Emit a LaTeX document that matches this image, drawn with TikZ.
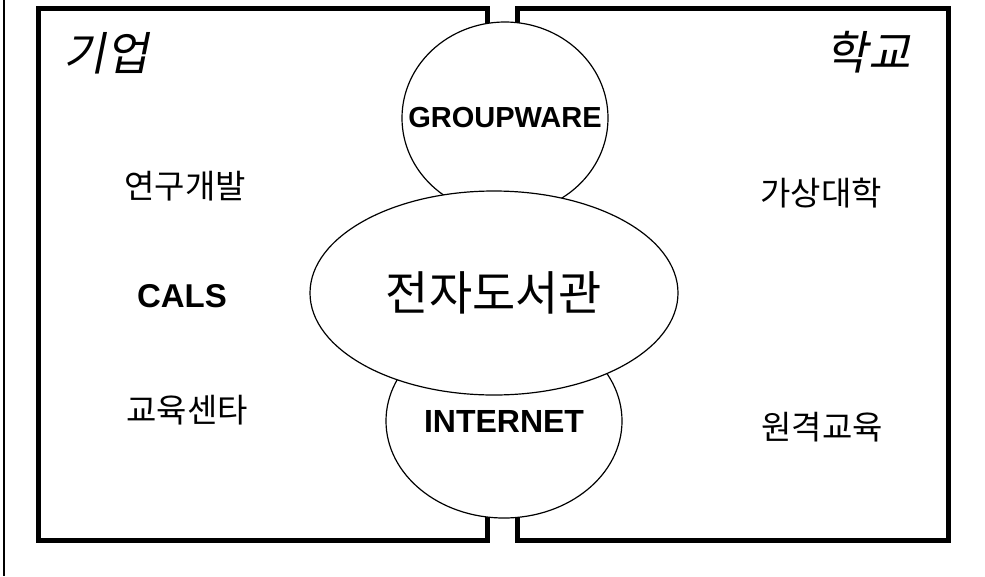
\documentclass[tikz,border=0pt]{standalone}
\usepackage{fontspec}
\setmainfont{Liberation Sans}
\newfontfamily\kr{Noto Sans CJK KR}
\newfontfamily\krslant{Noto Sans CJK KR}[FakeSlant=0.2]
\usetikzlibrary{shapes.geometric}
\tikzset{
  regionbox/.style={line width=5pt},
  bubble/.style={ellipse,draw,fill=white,line width=1.2pt,inner xsep=-30pt,inner ysep=0pt},
  eng/.style={font=\fontsize{#1}{36}\selectfont\bfseries},
  eng/.default=30,
  hangul/.style={font=\kr\fontsize{33}{40}\selectfont},
  sidetitle/.style={font=\krslant\fontsize{46}{54}\selectfont}
}
\begin{document}
\begin{tikzpicture}[x=1pt,y=-1pt]
  \useasboundingbox (0,0) rectangle (985,576);
  \draw[line width=1.2pt] (4,0) -- (4,576);
  % two regions
  \draw[regionbox] (38,8) rectangle (487,540);
  \draw[regionbox] (517,8) rectangle (948,540);
  \node[sidetitle] (firm) at (106,53) {기업};
  \node[sidetitle] (school) at (868,52) {학교};
  % middle bubbles
  \node[bubble,minimum width=206,minimum height=192,eng=29] (gw) at (505,118) {GROUPWARE};
  \node[bubble,minimum width=236,minimum height=194,eng=32] (net) at (504,421) {INTERNET};
  \node[bubble,minimum width=368,minimum height=204,font=\kr\fontsize{47}{54}\selectfont] (dl) at (494,293) {전자도서관};
  % left side
  \node[hangul] (rnd) at (185,186) {연구개발};
  \node[eng=33] (cals) at (182,296) {CALS};
  \node[hangul] (edu) at (187,410) {교육센타};
  % right side
  \node[hangul] (vu) at (821,193) {가상대학};
  \node[hangul] (dist) at (822,427) {원격교육};
\end{tikzpicture}
\end{document}
